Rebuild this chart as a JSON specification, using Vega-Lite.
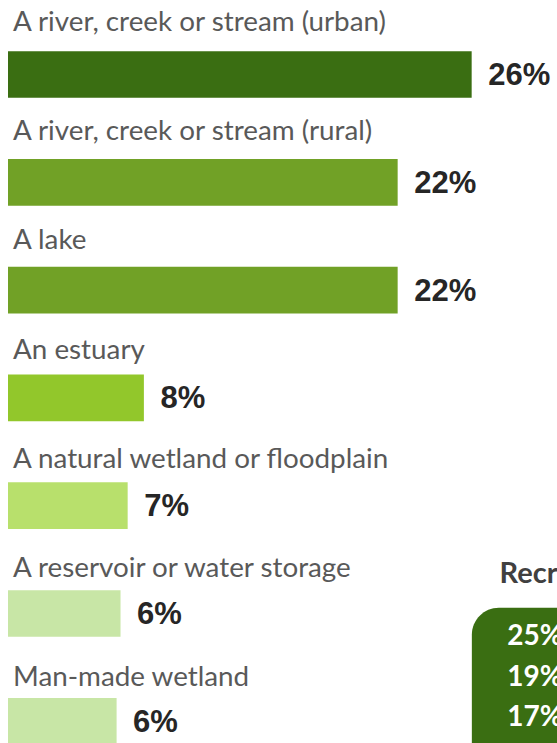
{
  "$schema": "https://vega.github.io/schema/vega-lite/v6.json",
  "width": 535,
  "height": 743,
  "autosize": {"type": "none"},
  "padding": {"left": 8, "right": 14, "top": 0, "bottom": 0},
  "background": "white",
  "config": {"view": {"stroke": null}},
  "datasets": {
    "places": [
      {"place": "A river, creek or stream (urban)", "share": 0.26},
      {"place": "A river, creek or stream (rural)", "share": 0.2185},
      {"place": "A lake", "share": 0.2185},
      {"place": "An estuary", "share": 0.0762},
      {"place": "A natural wetland or floodplain", "share": 0.0671},
      {"place": "A reservoir or water storage", "share": 0.0631},
      {"place": "Man-made wetland", "share": 0.0609}
    ],
    "recreation": [
      {"pct": "25%"},
      {"pct": "19%"},
      {"pct": "17%"}
    ]
  },
  "resolve": {"scale": {"y": "independent"}},
  "layer": [
    {
      "data": {"name": "places"},
      "layer": [
        {
          "mark": {"type": "bar", "height": 46.7, "yOffset": 20.6},
          "encoding": {
            "y": {"field": "place", "type": "nominal", "sort": null, "axis": null,
                  "scale": {"type": "band", "rangeMax": 754.6, "paddingInner": 0, "paddingOuter": 0}},
            "x": {"field": "share", "type": "quantitative", "axis": null, "scale": {"domain": [0, 0.3]}},
            "color": {"field": "place", "type": "nominal", "legend": null,
                      "scale": {"domain": ["A river, creek or stream (urban)", "A river, creek or stream (rural)", "A lake", "An estuary", "A natural wetland or floodplain", "A reservoir or water storage", "Man-made wetland"],
                                "range": ["#3a6e12", "#71a126", "#71a126", "#92c72b", "#b8e06c", "#c8e6a6", "#c8e6a6"]}}
          }
        },
        {
          "mark": {"type": "text", "align": "left", "baseline": "middle", "dx": 16.5, "dy": 22, "font": "Liberation Sans", "fontWeight": "bold", "fontSize": 31, "color": "#262626"},
          "encoding": {
            "y": {"field": "place", "type": "nominal", "sort": null, "axis": null},
            "x": {"field": "share", "type": "quantitative", "axis": null, "scale": {"domain": [0, 0.3]}},
            "text": {"field": "share", "type": "quantitative", "format": ".0%"}
          }
        }
      ]
    },
    {
      "data": {"name": "places"},
      "mark": {"type": "text", "align": "left", "baseline": "middle", "dx": 5, "dy": -31.5, "font": "Lato", "fontSize": 27.8, "color": "#595959"},
      "encoding": {
        "y": {"field": "place", "type": "nominal", "sort": null, "axis": null,
              "scale": {"type": "band", "rangeMax": 764.2, "paddingInner": 0, "paddingOuter": 0}},
        "x": {"datum": 0, "type": "quantitative", "axis": null, "scale": {"domain": [0, 0.3]}},
        "text": {"field": "place", "type": "nominal"}
      }
    },
    {
      "data": {"name": "recreation"},
      "layer": [
        {
          "transform": [{"filter": "datum.pct == '25%'"}],
          "mark": {"type": "bar", "height": 140, "cornerRadiusTopLeft": 27, "color": "#3a6e12"},
          "encoding": {
            "x": {"datum": 0.2601, "type": "quantitative", "axis": null, "scale": {"domain": [0, 0.3]}},
            "x2": {"datum": 0.34},
            "y": {"datum": "19%", "type": "nominal", "axis": null,
                  "scale": {"type": "band", "domain": ["25%", "19%", "17%"], "rangeMin": 617, "rangeMax": 738.5, "paddingInner": 0, "paddingOuter": 0}}
          }
        },
        {
          "transform": [{"filter": "datum.pct == '25%'"}],
          "mark": {"type": "text", "align": "left", "baseline": "middle", "dy": -63, "font": "Lato", "fontWeight": "bold", "fontSize": 29, "color": "#404040"},
          "encoding": {
            "x": {"datum": 0.2756, "type": "quantitative", "axis": null, "scale": {"domain": [0, 0.3]}},
            "y": {"datum": "25%", "type": "nominal", "axis": null},
            "text": {"value": "Recreational activities"}
          }
        },
        {
          "mark": {"type": "text", "align": "left", "baseline": "middle", "font": "Lato", "fontWeight": "bold", "fontSize": 28, "color": "white"},
          "encoding": {
            "x": {"datum": 0.28, "type": "quantitative", "axis": null, "scale": {"domain": [0, 0.3]}},
            "y": {"field": "pct", "type": "nominal", "sort": null, "axis": null},
            "text": {"field": "pct", "type": "nominal"}
          }
        }
      ]
    }
  ]
}
